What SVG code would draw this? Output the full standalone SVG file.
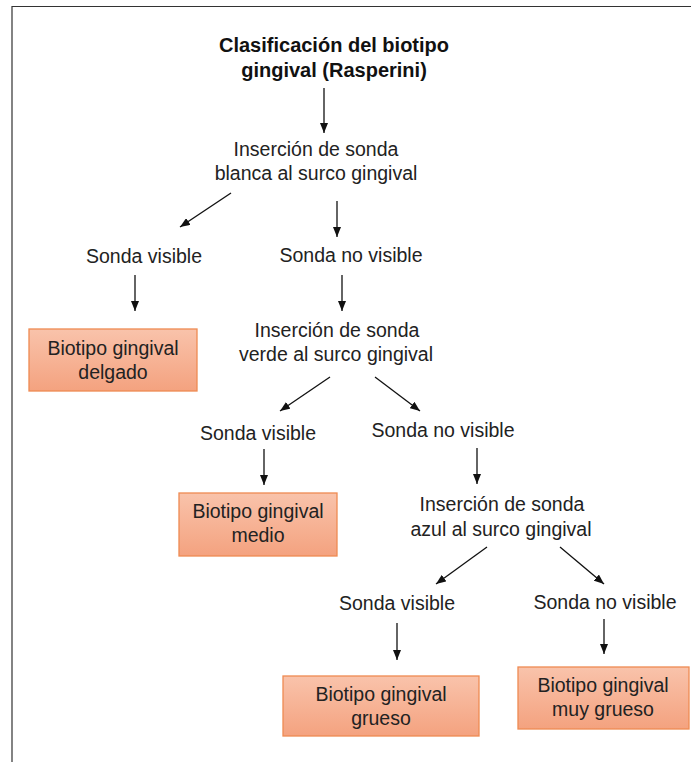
<svg xmlns="http://www.w3.org/2000/svg" width="691" height="762" viewBox="0 0 691 762">
<defs>
<linearGradient id="boxfill" x1="0" y1="0" x2="0" y2="1">
<stop offset="0" stop-color="#f9c3ab"/>
<stop offset="1" stop-color="#f4a27f"/>
</linearGradient>
<marker id="ah" markerWidth="10" markerHeight="8" refX="10" refY="4" orient="auto" markerUnits="userSpaceOnUse">
<path d="M0,0 L10,4 L0,8 z" fill="#111"/>
</marker>
<style>
.t{font-family:"Liberation Sans",Arial,sans-serif;font-size:19.5px;fill:#222;text-anchor:middle}
.b{font-weight:bold;font-size:20px;fill:#111}
.box{fill:url(#boxfill);stroke:#ef8a52;stroke-width:1.3}
.c{stroke:#111;stroke-width:1.3;fill:none;marker-end:url(#ah)}
.frame{stroke:#333;stroke-width:1.2;fill:none}
</style>
</defs>
<rect width="691" height="762" fill="#fff"/>
<path class="frame" d="M12,770 L12,6.5 L700,6.5"/>

<g id="title"><text class="t b" x="334" y="52">Clasificación del biotipo</text><text class="t b" x="334" y="77">gingival (Rasperini)</text></g>
<g id="n_blanca"><text class="t" x="316" y="156">Inserción de sonda</text><text class="t" x="316" y="180">blanca al surco gingival</text></g>
<g id="n_sv1"><text class="t" x="144" y="263">Sonda visible</text></g>
<g id="n_snv1"><text class="t" x="351" y="262">Sonda no visible</text></g>
<g id="n_delgado"><rect class="box" x="29" y="329" width="168" height="62"/><text class="t" x="113" y="355">Biotipo gingival</text><text class="t" x="113" y="379">delgado</text></g>
<g id="n_verde"><text class="t" x="337" y="337">Inserción de sonda</text><text class="t" x="336" y="361">verde al surco gingival</text></g>
<g id="n_sv2"><text class="t" x="258" y="440">Sonda visible</text></g>
<g id="n_snv2"><text class="t" x="443" y="437">Sonda no visible</text></g>
<g id="n_medio"><rect class="box" x="179" y="493" width="158" height="63"/><text class="t" x="258" y="518">Biotipo gingival</text><text class="t" x="258" y="542">medio</text></g>
<g id="n_azul"><text class="t" x="502" y="511">Inserción de sonda</text><text class="t" x="501" y="536">azul al surco gingival</text></g>
<g id="n_sv3"><text class="t" x="397" y="610">Sonda visible</text></g>
<g id="n_snv3"><text class="t" x="605" y="609">Sonda no visible</text></g>
<g id="n_grueso"><rect class="box" x="283" y="676" width="196" height="60"/><text class="t" x="381" y="701">Biotipo gingival</text><text class="t" x="381" y="725">grueso</text></g>
<g id="n_muygrueso"><rect class="box" x="518" y="667" width="171" height="62"/><text class="t" x="603" y="692">Biotipo gingival</text><text class="t" x="603" y="716">muy grueso</text></g>

<g id="connectors">
<line class="c" x1="324" y1="88" x2="324" y2="133"/>
<line class="c" x1="231" y1="193" x2="180" y2="227"/>
<line class="c" x1="337" y1="201" x2="337" y2="237"/>
<line class="c" x1="135" y1="275" x2="135" y2="311"/>
<line class="c" x1="342" y1="275" x2="342" y2="311"/>
<line class="c" x1="330" y1="377" x2="280" y2="411"/>
<line class="c" x1="375" y1="377" x2="420" y2="411"/>
<line class="c" x1="264" y1="449" x2="264" y2="485"/>
<line class="c" x1="477" y1="448" x2="477" y2="484"/>
<line class="c" x1="487" y1="547" x2="436" y2="584"/>
<line class="c" x1="560" y1="547" x2="604" y2="584"/>
<line class="c" x1="397" y1="623" x2="397" y2="660"/>
<line class="c" x1="604" y1="619" x2="604" y2="654"/>
</g>
</svg>
